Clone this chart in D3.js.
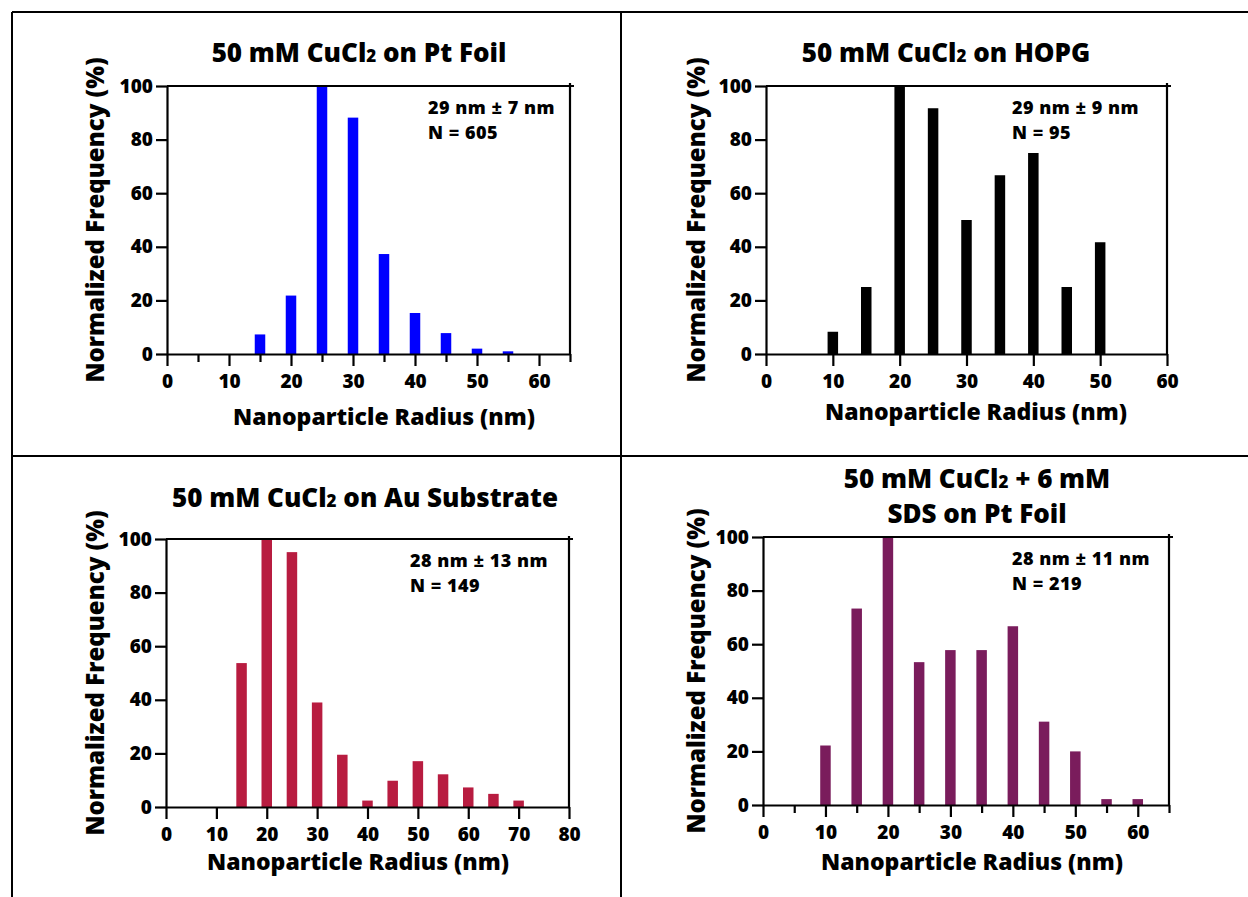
<!DOCTYPE html>
<html>
<head>
<meta charset="utf-8">
<script src="https://cdn.jsdelivr.net/npm/d3@7"></script>
<style>
  html, body { margin: 0; padding: 0; background: #fff; }
  svg { display: block; }
  svg text { font-family: "Open Sans", "Lato", sans-serif; font-weight: 800; fill: #000; }
</style>
</head>
<body>
<svg id="chart" width="1248" height="897"></svg>
<script>
'use strict';

// Radius bins (nm) and normalized frequency (%).
var ptFoilRadius = [15, 20, 25, 30, 35, 40, 45, 50, 55];
var ptFoilFreq   = [7.3, 21.8, 100, 88.2, 37.3, 15.3, 7.8, 2, 1];

var hopgRadius = [10, 15, 20, 25, 30, 35, 40, 45, 50];
var hopgFreq   = [8.3, 25, 100, 91.7, 50, 66.7, 75, 25, 41.7];

var auRadius = [15, 20, 25, 30, 35, 40, 45, 50, 55, 60, 65, 70];
var auFreq   = [53.7, 100, 95.1, 39, 19.5, 2.4, 9.8, 17.1, 12.2, 7.3, 4.9, 2.4];

var sdsRadius = [10, 15, 20, 25, 30, 35, 40, 45, 50, 55, 60];
var sdsFreq   = [22.2, 73.3, 100, 53.3, 57.8, 57.8, 66.7, 31.1, 20, 2.2, 2.2];

var yTicks     = [0, 20, 40, 60, 80, 100];
var xTicks60   = [0, 10, 20, 30, 40, 50, 60];
var xTicks80   = [0, 10, 20, 30, 40, 50, 60, 70, 80];
var xMinor65   = [5, 15, 25, 35, 45, 55, 65];

var yLabel = 'Normalized Frequency (%)';
var xLabel = 'Nanoparticle Radius (nm)';

var panels = [
    {
        radius: ptFoilRadius, freq: ptFoilFreq, color: '#0000ff',
        title: [['50 mM CuCl', '2', ' on Pt Foil']],
        stats: ['29 nm \u00b1 7 nm', 'N = 605'],
        xMax: 65, xMajor: xTicks60, xMinor: xMinor65,
        box: {left: 167, right: 570, top: 86, bottom: 354},
        titleX: 359, titleY: [62], statsX: 428, yLabelX: 104, xLabelX: 384, xLabelY: 425
    },
    {
        radius: hopgRadius, freq: hopgFreq, color: '#000000',
        title: [['50 mM CuCl', '2', ' on HOPG']],
        stats: ['29 nm \u00b1 9 nm', 'N = 95'],
        xMax: 60, xMajor: xTicks60, xMinor: [],
        box: {left: 766, right: 1167, top: 86, bottom: 354},
        titleX: 946, titleY: [62], statsX: 1012, yLabelX: 705, xLabelX: 976, xLabelY: 420
    },
    {
        radius: auRadius, freq: auFreq, color: '#b81c40',
        title: [['50 mM CuCl', '2', ' on Au Substrate']],
        stats: ['28 nm \u00b1 13 nm', 'N = 149'],
        xMax: 80, xMajor: xTicks80, xMinor: [],
        box: {left: 166, right: 569, top: 539, bottom: 807},
        titleX: 365, titleY: [507], statsX: 410, yLabelX: 104, xLabelX: 358, xLabelY: 870
    },
    {
        radius: sdsRadius, freq: sdsFreq, color: '#7a1c5c',
        title: [['50 mM CuCl', '2', ' + 6 mM'], ['SDS on Pt Foil']],
        stats: ['28 nm \u00b1 11 nm', 'N = 219'],
        xMax: 65, xMajor: xTicks60, xMinor: xMinor65,
        box: {left: 763, right: 1169, top: 537, bottom: 805},
        titleX: 977, titleY: [488, 523], statsX: 1012, yLabelX: 705, xLabelX: 972, xLabelY: 870
    }
];

var svg = d3.select('#chart');

// outer frame and the two dividers
var frame = svg.append('g').attr('stroke', '#000').attr('stroke-width', 2);
frame.append('line').attr('x1', 12).attr('y1', 12).attr('x2', 1248).attr('y2', 12);
frame.append('line').attr('x1', 12).attr('y1', 12).attr('x2', 12).attr('y2', 897);
frame.append('line').attr('x1', 621).attr('y1', 12).attr('x2', 621).attr('y2', 897);
frame.append('line').attr('x1', 12).attr('y1', 456).attr('x2', 1248).attr('y2', 456);

function styleAxis(g, size) {
    g.attr('font-family', null).attr('font-size', null);
    g.selectAll('text').style('font-size', size + 'px');
    g.selectAll('line').attr('stroke-width', 2.2);
    g.select('.domain').attr('stroke-width', 2.2);
}

panels.forEach(function (p) {
    var b = p.box,
        x = d3.scaleLinear().domain([0, p.xMax]).range([b.left, b.right]),
        y = d3.scaleLinear().domain([0, 100]).range([b.bottom, b.top]),
        barW = 10.5,
        g = svg.append('g');

    g.selectAll('rect.bar')
        .data(p.radius.map(function (r, i) { return {r: r, f: p.freq[i]}; }))
        .enter().append('rect')
        .attr('class', 'bar')
        .attr('x', function (d) { return x(d.r) - barW / 2; })
        .attr('width', barW)
        .attr('y', function (d) { return y(d.f); })
        .attr('height', function (d) { return y(0) - y(d.f); })
        .attr('fill', p.color);

    // top and right edges of the plot box
    g.append('path')
        .attr('d', 'M' + b.left + ',' + b.top + 'H' + (b.right + 4) + 'M' + b.right + ',' + (b.top - 3) + 'V' + b.bottom)
        .attr('fill', 'none')
        .attr('stroke', '#000')
        .attr('stroke-width', 2.2);

    var yAxis = g.append('g')
        .attr('transform', 'translate(' + b.left + ',0)')
        .call(d3.axisLeft(y).tickValues(yTicks).tickSize(11).tickSizeOuter(0).tickPadding(3));
    styleAxis(yAxis, 19);

    if (p.xMinor.length) {
        var minor = g.append('g')
            .attr('transform', 'translate(0,' + b.bottom + ')')
            .call(d3.axisBottom(x).tickValues(p.xMinor).tickSize(8).tickSizeOuter(0).tickFormat(''));
        minor.select('.domain').remove();
        styleAxis(minor, 19);
    }

    var xAxis = g.append('g')
        .attr('transform', 'translate(0,' + b.bottom + ')')
        .call(d3.axisBottom(x).tickValues(p.xMajor).tickSize(12).tickSizeOuter(0).tickPadding(9));
    styleAxis(xAxis, 19);

    // titles, with a small "2" for CuCl2
    p.title.forEach(function (parts, li) {
        var t = g.append('text')
            .attr('x', p.titleX)
            .attr('y', p.titleY[li])
            .attr('text-anchor', 'middle')
            .style('font-size', '26px');
        parts.forEach(function (s, k) {
            t.append('tspan')
                .style('font-size', k === 1 ? '17px' : '26px')
                .text(s);
        });
    });

    // mean +/- sd and count
    g.selectAll('text.stats')
        .data(p.stats)
        .enter().append('text')
        .attr('class', 'stats')
        .attr('x', p.statsX)
        .attr('y', function (d, i) { return b.top + 28 + i * 25; })
        .style('font-size', '18px')
        .style('letter-spacing', '0.5px')
        .text(function (d) { return d; });

    g.append('text')
        .attr('transform', 'translate(' + p.yLabelX + ',' + ((b.top + b.bottom) / 2) + ') rotate(-90)')
        .attr('text-anchor', 'middle')
        .style('font-size', '24px')
        .text(yLabel);

    g.append('text')
        .attr('x', p.xLabelX)
        .attr('y', p.xLabelY)
        .attr('text-anchor', 'middle')
        .style('font-size', '23px')
        .text(xLabel);
});
</script>
</body>
</html>
